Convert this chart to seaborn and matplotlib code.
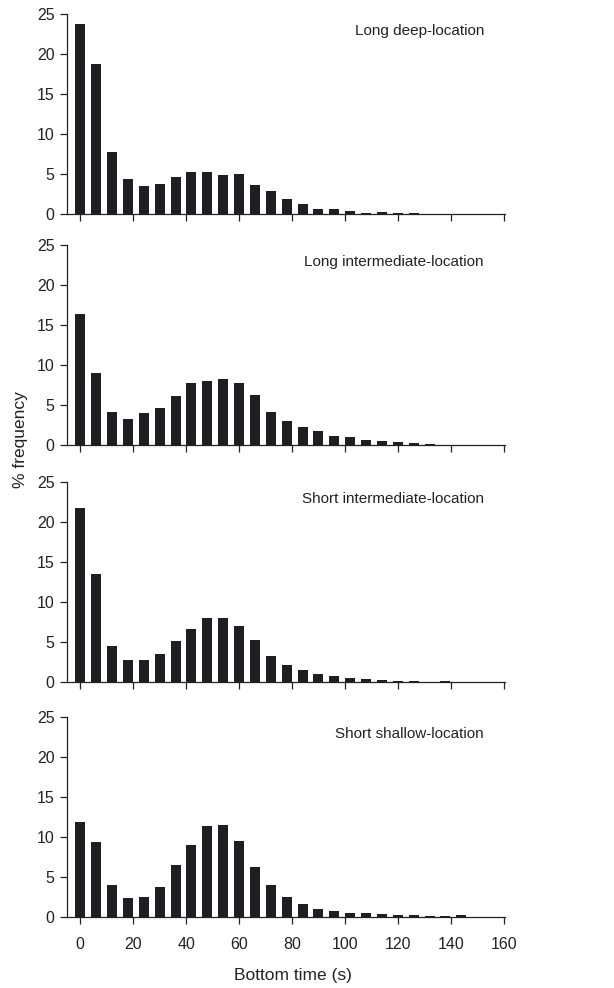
import numpy as np
import pandas as pd
import matplotlib
matplotlib.use('Agg')
import matplotlib.pyplot as plt
import seaborn as sns

# bin starts (s), 6-s bins
BIN_STEP = 6

# % frequency per bin
long_deep = [23.75, 18.75, 7.75, 4.35, 3.55, 3.8, 4.7, 5.25, 5.3, 4.9, 5.0,
             3.7, 2.85, 1.9, 1.3, 0.7, 0.6, 0.4, 0.2, 0.25, 0.15, 0.1]
long_intermediate = [16.4, 9.0, 4.1, 3.3, 3.95, 4.6, 6.1, 7.8, 8.05, 8.3, 7.8,
                     6.3, 4.15, 2.95, 2.3, 1.8, 1.1, 0.95, 0.6, 0.55, 0.35, 0.2, 0.1]
short_intermediate = [21.8, 13.5, 4.55, 2.8, 2.8, 3.5, 5.15, 6.65, 8.1, 8.0, 7.1,
                      5.25, 3.25, 2.2, 1.6, 1.1, 0.75, 0.55, 0.45, 0.35, 0.2, 0.2, 0.1, 0.15]
short_shallow = [11.9, 9.4, 4.1, 2.4, 2.5, 3.75, 6.5, 9.0, 11.4, 11.5, 9.5,
                 6.25, 4.1, 2.55, 1.7, 1.1, 0.75, 0.55, 0.5, 0.4, 0.3, 0.3, 0.15, 0.15, 0.25]

panel_titles = ["Long deep-location", "Long intermediate-location",
                "Short intermediate-location", "Short shallow-location"]
panel_values = [long_deep, long_intermediate, short_intermediate, short_shallow]

x_ticks = [0, 20, 40, 60, 80, 100, 120, 140, 160]
y_ticks = [0, 5, 10, 15, 20, 25]

BAR_COLOR = '#1f1f23'
INK = '#222222'

sns.set_style('ticks')
plt.rcParams['font.family'] = ['Liberation Sans', 'DejaVu Sans']

W, H = 614, 988
fig = plt.figure(figsize=(W / 100, H / 100), dpi=100)

# axes boxes in pixels
ax_left, ax_right = 67, 505
panel_tops = [14.3, 245.0, 482.3, 717.3]
panel_h = 200

for i, (title, vals) in enumerate(zip(panel_titles, panel_values)):
    top = panel_tops[i]
    ax = fig.add_axes([ax_left / W, 1 - (top + panel_h) / H,
                       (ax_right - ax_left) / W, panel_h / H])
    df = pd.DataFrame({"bin": np.arange(len(vals)) * BIN_STEP, "pct": vals})
    sns.barplot(data=df, x="bin", y="pct", native_scale=True, width=0.63,
                color=BAR_COLOR, saturation=1, edgecolor='none', ax=ax)
    ax.set_xlim(-5, 160.5)
    ax.set_ylim(0, 25)
    ax.set_xticks(x_ticks)
    ax.set_yticks(y_ticks)
    ax.set_xlabel('')
    ax.set_ylabel('')
    sns.despine(ax=ax)
    for sp in ax.spines.values():
        sp.set_linewidth(0.9)
        sp.set_color(INK)
    ax.tick_params(axis='both', length=5, width=0.9, color=INK,
                   labelsize=11.5, labelcolor=INK)
    ax.tick_params(axis='y', pad=4)
    ax.tick_params(axis='x', pad=9)
    if i < 3:
        ax.tick_params(axis='x', labelbottom=False)
    ax.text(0.952, 0.915, title, transform=ax.transAxes, ha='right',
            va='center', fontsize=11, color=INK)

fig.text(293 / W, 1 - 975 / H, 'Bottom time (s)', ha='center', va='center',
         fontsize=12.5, color=INK)
fig.text(21 / W, 1 - 440 / H, '% frequency', rotation=90, ha='center',
         va='center', fontsize=12.5, color=INK)

fig.savefig('out.png', dpi=100)
